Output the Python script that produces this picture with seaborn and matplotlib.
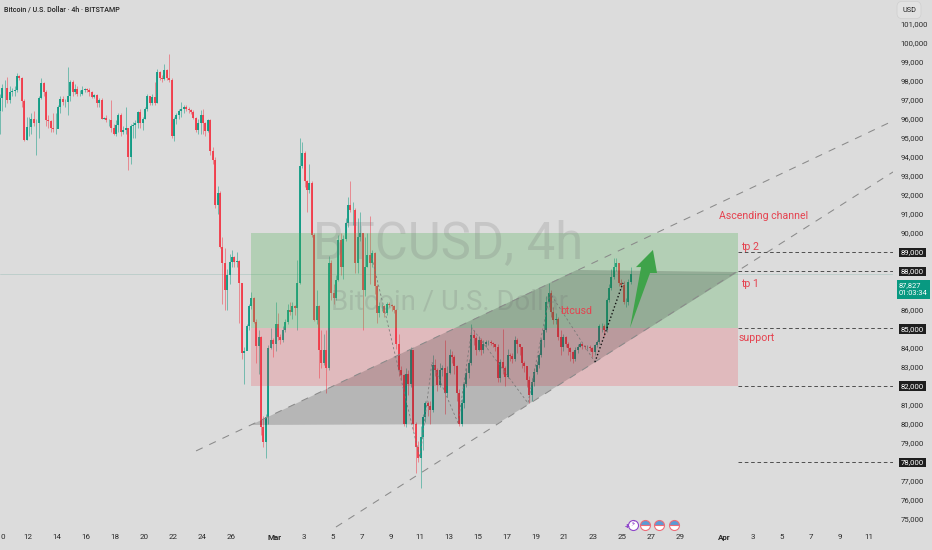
import matplotlib
matplotlib.use("Agg")
import matplotlib.pyplot as plt
from matplotlib.patches import Polygon, Rectangle
import numpy as np
import pandas as pd
import seaborn as sns

# Prices in thousands of USD, one entry per 4h candle
closes = [
 97.1,97.6,97.6,96.95,97.4,97.45,97.5,98.25,98.15,96.9,94.9,95.55,95.55,95.95,95.75,95.75,97.1,97.85,97.4,95.9,
 95.85,95.5,95.45,95.45,96.6,97.05,96.85,96.85,97.2,97.9,97.4,97.55,97.3,97.3,97.5,97.55,97.5,97.4,97.15,97.25,
 96.8,96.95,96.0,96.05,95.9,95.9,95.5,95.2,95.66,96.2,95.3,95.4,95.5,94.0,95.6,95.66,95.75,96.36,95.75,96.0,
 96.5,97.2,96.8,97.15,96.8,98.46,98.1,98.05,98.55,98.1,98.0,95.1,96.0,96.2,96.4,96.5,96.6,96.5,96.45,96.35,
 96.05,95.4,95.75,96.2,95.75,95.35,95.9,94.3,93.85,91.45,92.1,
 89.28,88.4,87.0,87.8,88.5,88.75,88.5,88.55,87.36,83.7,83.8,85.1,86.15,86.6,85.35,84.05,84.55,79.85,79.05,80.35,
 83.95,84.4,84.2,85.25,84.55,84.4,84.9,85.35,85.95,85.85,86.15,86.05,87.36,93.5,94.2,92.7,92.25,92.6,89.9,85.45,
 86.15,83.85,83.16,83.85,82.9,88.4,86.83,86.57,87.53,89.63,88.23,89.7,90.5,91.47,91.2,91.2,88.4,89.8,90.0,87.0,
 88.23,88.85,88.4,88.93,87.2,85.8,86.15,86.15,85.8,86.3,86.22,86.15,85.96,84.2,82.8,82.55,80.0,82.6,82.1,83.85,
 80.0,78.8,78.2,
 79.3,80.37,81.07,80.9,80.7,83.07,82.8,82.03,82.8,82.9,81.6,82.64,83.6,83.5,83.0,81.6,80.0,81.07,82.1,82.64,
 83.16,84.65,84.47,83.86,84.39,83.86,84.2,84.3,84.3,84.25,84.18,84.04,82.4,83.25,82.9,82.46,83.6,83.55,83.4,84.39,
 84.18,84.04,83.16,83.0,82.3,81.5,82.2,82.7,83.07,83.6,84.39,84.9,86.4,86.83,85.87,85.43,85.5,84.56,84.04,84.56,
 84.2,83.95,83.77,83.4,83.86,84.04,84.18,84.07,84.0,84.04,83.95,83.77,84.12,84.3,85.1,85.12,84.9,86.48,87.1,87.7,
 88.23,88.45,87.36,87.27,86.4,86.4,87.45,87.83]
highs = [
 97.3,97.8,98.0,98.2,97.7,97.6,97.7,98.4,98.3,98.2,97.0,96.1,96.1,96.3,96.4,96.0,97.2,98.1,97.9,97.5,
 96.2,95.9,96.3,96.3,96.7,97.2,97.2,97.0,98.7,98.0,98.0,97.8,97.7,97.5,97.7,97.6,97.6,97.6,97.45,97.3,
 97.3,97.1,97.1,96.1,96.2,96.0,96.97,95.7,95.9,96.3,96.3,95.6,96.6,95.5,95.7,95.8,95.9,96.4,96.5,96.1,
 96.6,97.3,97.2,97.3,97.9,98.6,98.5,98.3,98.85,98.6,99.4,98.1,96.1,96.3,96.5,96.85,96.7,96.7,96.6,96.5,
 96.45,96.1,95.95,96.45,96.5,95.8,96.0,96.0,94.5,94.0,92.45,
 92.2,89.8,89.2,88.1,88.9,89.1,88.8,89.0,88.6,87.4,84.0,85.2,86.3,86.9,86.65,85.5,84.9,84.6,80.4,80.5,
 84.1,85.0,84.5,86.4,85.8,84.7,85.1,85.5,86.3,86.4,86.4,86.2,88.6,95.0,94.75,94.3,92.8,93.6,92.7,90.0,
 87.0,86.2,84.9,84.7,84.9,88.8,88.6,87.3,87.8,89.9,90.0,89.9,90.8,91.9,92.7,91.6,91.3,90.8,91.1,90.0,
 89.8,90.0,90.9,89.1,89.0,87.3,86.4,86.3,86.2,86.4,86.4,86.3,86.2,86.0,84.7,83.0,82.6,82.9,82.8,84.0,
 83.8,80.1,79.1,
 79.9,80.5,81.2,81.2,81.2,83.6,83.4,82.9,83.2,83.1,84.4,83.0,83.9,83.8,83.6,83.1,81.8,81.3,82.2,82.9,
 83.4,85.2,84.9,84.6,84.6,84.5,84.4,84.4,84.4,84.4,84.3,84.2,84.2,83.4,84.95,83.0,83.9,83.7,83.7,84.6,
 84.5,84.2,84.0,83.3,83.0,82.5,82.4,82.9,83.3,83.7,84.5,85.2,86.7,87.4,87.0,86.1,85.8,85.6,84.9,84.7,
 84.6,84.3,84.0,83.8,84.0,84.2,84.3,84.25,84.15,84.1,84.1,84.0,84.2,84.4,85.2,85.3,85.2,86.6,87.3,88.1,
 88.7,88.67,88.45,87.6,87.5,86.6,87.6,88.2]
lows = [
 95.2,96.4,96.6,96.8,96.8,97.2,97.2,97.4,98.0,96.6,94.8,94.9,95.1,95.2,95.6,94.1,95.0,97.0,97.2,95.6,
 95.5,95.3,95.3,95.2,95.5,96.3,96.7,96.6,96.2,96.9,97.2,97.3,97.2,97.2,97.25,97.4,97.4,97.2,97.1,97.1,
 96.6,96.6,95.95,95.95,95.8,95.6,95.3,95.15,95.1,95.3,95.1,95.2,95.2,93.3,93.6,95.0,95.0,95.5,95.5,95.4,
 96.0,96.4,96.7,96.7,96.7,96.8,98.0,97.9,98.0,98.0,97.9,95.0,94.8,95.7,96.0,96.1,96.3,96.4,96.3,96.25,
 96.0,95.3,95.2,95.2,95.2,95.1,95.3,94.1,93.6,91.3,91.0,
 89.2,86.3,85.95,85.95,87.3,88.2,88.2,88.2,85.3,83.4,82.1,83.9,84.9,86.0,85.3,83.2,82.6,79.4,78.8,78.2,
 80.0,83.9,83.5,83.8,84.4,84.2,84.3,84.8,85.2,85.7,85.5,85.7,84.9,87.3,93.4,92.4,91.1,92.1,89.8,85.4,
 85.2,82.4,82.9,83.1,81.6,82.8,86.5,86.3,86.5,87.5,87.8,87.6,89.6,90.3,91.1,90.4,87.9,87.9,89.6,84.9,
 86.7,88.2,87.3,88.2,86.8,85.3,85.6,85.9,85.6,85.7,86.1,85.9,85.8,83.9,82.5,82.3,79.9,79.8,81.5,81.9,
 79.6,77.4,78.0,
 76.6,78.6,80.1,80.4,80.0,80.6,82.5,81.7,81.9,82.5,80.5,81.4,82.6,83.2,82.6,81.2,79.9,79.9,80.8,81.9,
 82.4,83.1,84.1,83.6,83.8,83.6,83.7,84.0,84.1,84.1,84.0,83.8,82.2,82.2,82.6,82.0,82.4,83.3,83.2,83.3,
 83.7,83.6,82.9,82.7,81.9,81.1,81.2,82.0,82.6,82.9,83.5,84.0,84.8,86.1,85.6,85.2,85.2,84.4,83.6,83.8,
 84.0,83.6,83.3,83.16,83.3,83.7,84.0,83.9,83.9,83.9,83.8,83.5,83.6,84.0,84.2,84.8,84.6,84.8,86.4,87.0,
 87.6,88.0,87.2,87.1,86.3,86.1,86.2,87.3]

# Axis: days since 10 Feb, price in thousands
price_ticks = list(range(75, 102))
level_prices = [89, 88, 85, 82, 78]
day_ticks = [2, 4, 6, 8, 10, 12, 14, 16, 19, 21, 23, 25, 27, 29, 31, 33, 35, 37, 39, 41, 43, 45, 47, 50, 52, 54, 56, 58, 60]
day_labels = ["12", "14", "16", "18", "20", "22", "24", "26", "Mar", "3", "5", "7", "9", "11", "13", "15", "17",
              "19", "21", "23", "25", "27", "29", "Apr", "3", "5", "7", "9", "11"]

# Drawings
zone_left, zone_right = 17.38, 50.97
channel_upper_d, channel_upper_p = [13.59, 61.66], [78.57, 95.88]
channel_lower_d, channel_lower_p = [23.24, 61.66], [74.58, 93.2]
channel_fill = [(17.38, 79.93), (39.86, 88.06), (50.97, 87.95), (34.34, 79.98)]
zigzag_d = [25.72, 29.03, 29.86, 31.66, 32.62, 36.48, 38.0, 41.1]
zigzag_p = [88.69, 78.2, 83.23, 80.03, 85.02, 81.08, 86.85, 83.23]
dotted_d, dotted_p = [41.1, 43.03], [83.23, 87.38]
arrow_shape = [(43.52, 85.02), (44.28, 88.21), (43.93, 88.21), (45.1, 89.11), (45.38, 87.9), (44.9, 87.9)]
last_price = 87.827

W, H = 932, 550
BG = "#dcdcdc"
sns.set_theme(style="white", rc={"figure.facecolor": BG, "axes.facecolor": BG, "savefig.facecolor": BG})
plt.rcParams["font.family"] = ["Roboto", "DejaVu Sans"]

fig = plt.figure(figsize=(W / 100, H / 100), dpi=100)
ax = fig.add_axes([0, 22 / H, 893 / W, 528 / H])
ax.set_xlim(0.069, 61.655)
ax.set_ylim(74.528, 102.216)
sns.despine(ax=ax, left=True, bottom=True, right=True, top=True)

df = pd.DataFrame({"close": closes, "high": highs, "low": lows})
df["open"] = df["close"].shift(1).fillna(96.4)
df["day"] = 0.07 + np.arange(len(df)) / 6
df["color"] = np.where(df["close"] >= df["open"], "#089981", "#f23645")

# price line
ax.axhline(last_price, color="#4f9a90", lw=0.5, alpha=0.3, zorder=1)

ax.vlines(df["day"], df["low"], df["high"], colors=df["color"], lw=0.7, alpha=0.5, zorder=2)
ax.vlines(df["day"], df["open"], df["close"], colors=df["color"], lw=1.35, alpha=0.95, zorder=2.2)

# Watermark
ax.text(21.65, 88.69, "BTCUSD, 4h", fontsize=36.5, color="#6f6f6f", alpha=0.2, va="baseline", ha="left", zorder=3.6)
ax.text(22.9, 85.96, "Bitcoin / U.S. Dollar", fontsize=19.8, color="#6f6f6f", alpha=0.2, va="baseline", ha="left", zorder=3.6)

# Zones
ax.add_patch(Rectangle((zone_left, 85), zone_right - zone_left, 5, fc="#4caf50", alpha=0.28, ec="none", zorder=3))
ax.add_patch(Rectangle((zone_left, 82), zone_right - zone_left, 3, fc="#f23645", alpha=0.2, ec="none", zorder=3))
ax.add_patch(Polygon(channel_fill, closed=True, fc="#000000", alpha=0.17, ec="none", zorder=3.1))

dash_grey = "#8a8a8a"
sns.lineplot(x=channel_upper_d, y=channel_upper_p, ax=ax, color=dash_grey, lw=0.75, linestyle=(0, (7, 7)), zorder=3.2)
sns.lineplot(x=channel_lower_d, y=channel_lower_p, ax=ax, color=dash_grey, lw=0.75, linestyle=(0, (7, 7)), zorder=3.2)
for lv in level_prices:
    sns.lineplot(x=[zone_right, 61.655], y=[lv, lv], ax=ax, color="#444444", lw=0.65, linestyle=(0, (4, 3)), zorder=3.2)

ax.plot(zigzag_d, zigzag_p, color="#777777", lw=0.55, linestyle=(0, (3, 3)), zorder=3.3)
ax.plot(dotted_d, dotted_p, color="#111111", lw=1.0, linestyle=(0, (1, 1.6)), zorder=3.3)
ax.add_patch(Polygon(arrow_shape, closed=True, fc="#3fa34a", ec="none", zorder=3.4))

# Labels
red = "#e5424f"
for d, p, s in [(49.65, 90.9, "Ascending channel"), (51.2, 89.25, "tp 2"), (51.2, 87.3, "tp 1"),
                (51.0, 84.5, "support"), (38.7, 85.9, "btcusd")]:
    ax.text(d, p, s, color=red, fontsize=7.6, va="center", ha="left", zorder=4)

# Ticks
ax.set_yticks(price_ticks)
ax.set_yticklabels([f"{v},000" for v in price_ticks], fontsize=5.6, color="#2a2a2a", ha="left")
ax.yaxis.tick_right()
ax.tick_params(axis="y", length=0, pad=5.6)
ax.set_xticks(day_ticks)
ax.set_xticklabels(day_labels, fontsize=5.8, color="#2a2a2a")
ax.tick_params(axis="x", length=0, pad=4.6)
ax.set_xlabel("")
ax.set_ylabel("")
for lab, v in zip(ax.get_yticklabels(), price_ticks):
    if v in level_prices:
        lab.set_color("white")
        lab.set_bbox(dict(fc="#1e1e1e", ec="none", pad=1.3))
for lab, s in zip(ax.get_xticklabels(), day_labels):
    if s in ("Mar", "Apr"):
        lab.set_fontweight("bold")
ax.text(0.1, 74.06, "0", fontsize=5.8, color="#2a2a2a", ha="left", va="center", clip_on=False)

# Current price box
ax.text(61.655 + 0.42, 87.05, "87,827\n01:03:34", fontsize=5.4, color="white", ha="left", va="center",
        linespacing=1.15, clip_on=False, zorder=6, bbox=dict(fc="#089981", ec="none", pad=1.4))

# Title and currency
fig.text(4 / W, 1 - 10 / H, "Bitcoin / U.S. Dollar · 4h · BITSTAMP", fontsize=5.15, color="#222222", va="center", ha="left", fontweight="medium")
fig.text(909 / W, 1 - 10 / H, "USD", fontsize=5.2, color="#222222", va="center", ha="center",
         bbox=dict(boxstyle="round,pad=0.7", fc="#e2e2e2", ec="#cccccc", lw=0.4))

# Event icons
icon_days = [44.55, 45.5, 46.55]
ax.plot(icon_days, [74.69] * 3, ls="none", marker="o", ms=7.2, fillstyle="top", mfc="#5b9bd5", mfcalt="white",
        mec="#ee6c78", mew=0.8, clip_on=False, zorder=5)
ax.plot([43.72], [74.69], ls="none", marker="o", ms=7.2, mfc="white", mec="#8e44c9", mew=0.8, clip_on=False, zorder=5)
ax.text(43.72, 74.69, "⚡", fontsize=5, color="#8e44c9", ha="center", va="center", zorder=6, clip_on=False)
ax.text(43.28, 74.6, "+", fontsize=6, color="#8e44c9", ha="center", va="center", fontweight="bold", zorder=6, clip_on=False)

fig.savefig("out.png", dpi=100)
